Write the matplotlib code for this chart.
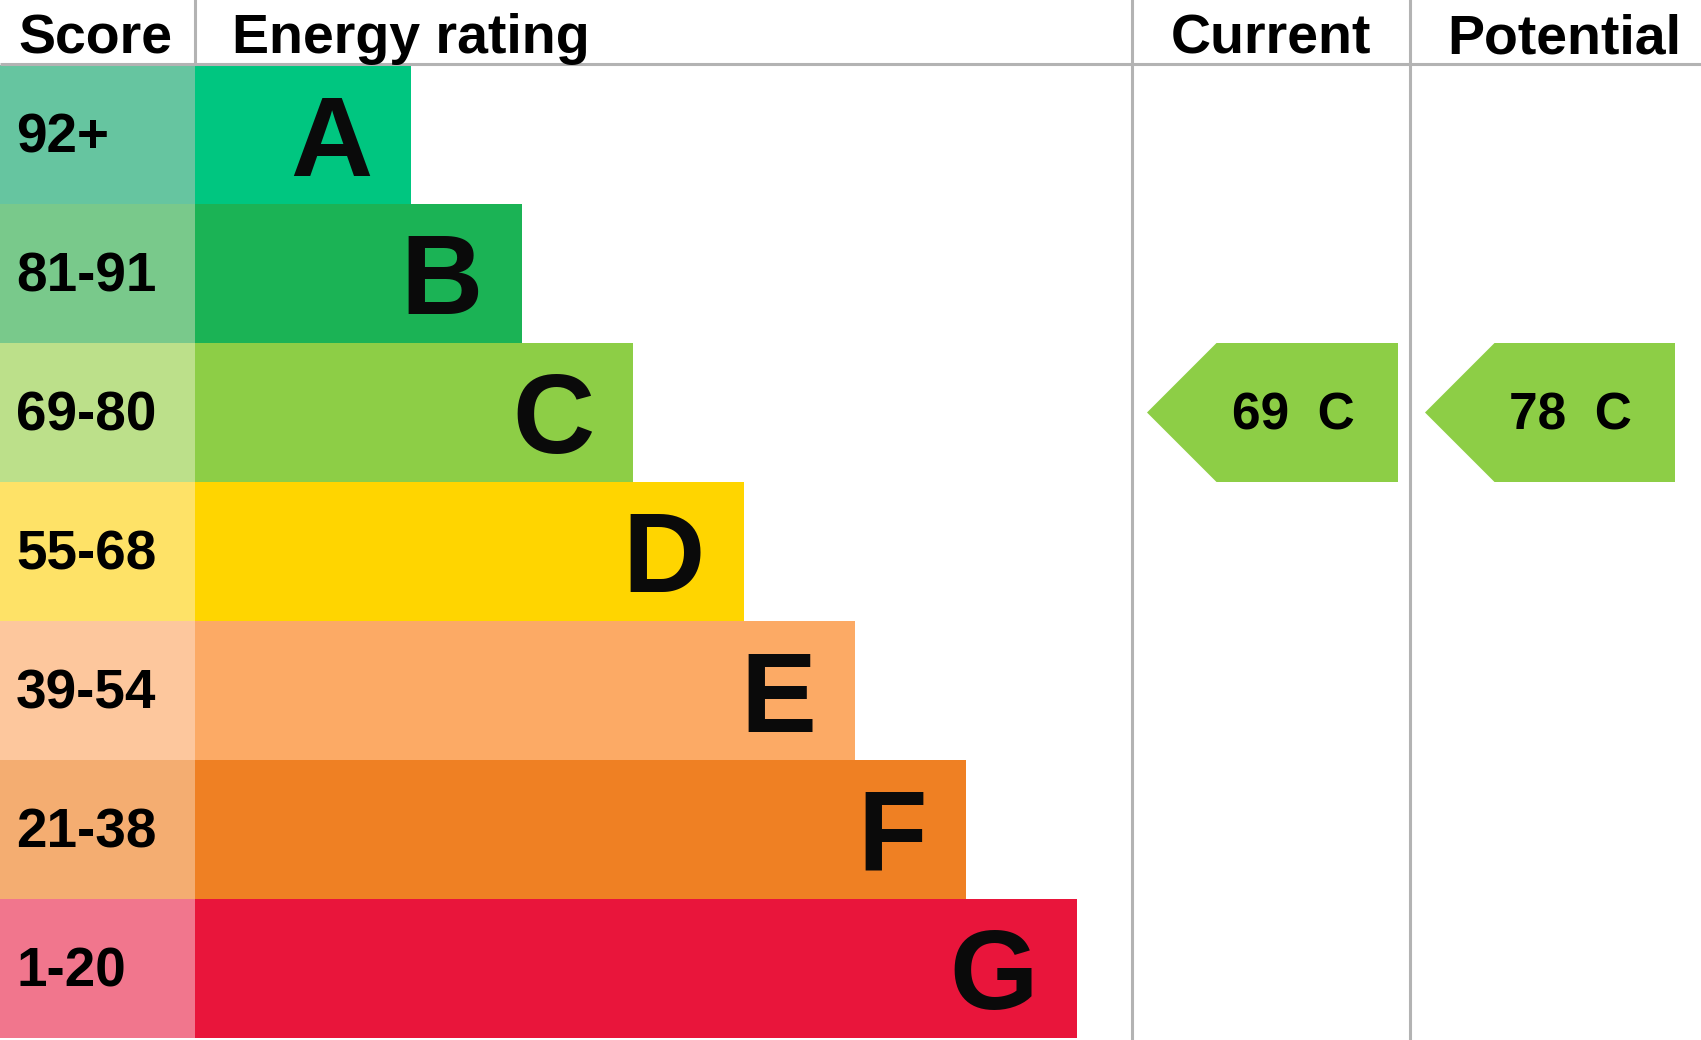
import matplotlib
matplotlib.use('Agg')
import matplotlib.pyplot as plt
from matplotlib.patches import Rectangle, Polygon

# -------- data --------
bands = ['A', 'B', 'C', 'D', 'E', 'F', 'G']
score_labels = ['92+', '81-91', '69-80', '55-68', '39-54', '21-38', '1-20']
score_lows = [92, 81, 69, 55, 39, 21, 1]
band_colors = ['#00c680', '#1bb355', '#8dce46', '#ffd500', '#fcaa65', '#ef8023', '#e9153b']
score_colors = ['#66c5a0', '#79c98b', '#bce08a', '#fee267', '#fdc79d', '#f4ad71', '#f1768d']
current = 69
potential = 78
# ----------------------

W, H = 1701, 1040
fig = plt.figure(figsize=(W / 100, H / 100), dpi=100)
ax = fig.add_axes([0, 0, 1, 1])
ax.set_xlim(0, W)
ax.set_ylim(H, 0)
ax.axis('off')

plt.rcParams['font.family'] = ['Liberation Sans', 'DejaVu Sans']

grid = '#b3b3b3'
lw = 2.2
header_h = 64
row_top = 65
row_h = 139
score_w = 195
cur_x0, pot_x0 = 1132, 1410


def band_of(score):
    for i, low in enumerate(score_lows):
        if score >= low:
            return i
    return len(bands) - 1


# header
ax.text(18, 53, 'Score', fontsize=40, fontweight='bold', ha='left', va='baseline')
ax.text(232, 53, 'Energy rating', fontsize=40, fontweight='bold', ha='left', va='baseline')
ax.text((cur_x0 + pot_x0) / 2, 53, 'Current', fontsize=40, fontweight='bold',
        ha='center', va='baseline')
ax.text(1564, 53, 'Potential', fontsize=40, fontweight='bold', ha='center', va='baseline')

ax.plot([0, W], [header_h, header_h], color=grid, lw=lw, solid_capstyle='butt')
ax.plot([score_w, score_w], [0, header_h], color=grid, lw=lw)
ax.plot([cur_x0, cur_x0], [0, H], color=grid, lw=lw)
ax.plot([pot_x0, pot_x0], [0, H], color=grid, lw=lw)

# bands
for i, (band, lab) in enumerate(zip(bands, score_labels)):
    y0 = row_top + i * row_h
    yc = y0 + row_h / 2
    x_end = 411 + i * 111
    ax.add_patch(Rectangle((0, y0), score_w, row_h, color=score_colors[i], lw=0))
    ax.add_patch(Rectangle((score_w, y0), x_end - score_w, row_h, color=band_colors[i], lw=0))
    ax.text(16, yc + 18, lab, fontsize=39.5, fontweight='bold', ha='left', va='baseline')
    ax.text(x_end - 39, yc + 41, band, fontsize=82, fontweight='bold',
            ha='right', va='baseline', color='#0a0a0a')


# rating arrows
def arrow(x0, x1, value):
    i = band_of(value)
    y0 = row_top + i * row_h
    y1 = y0 + row_h
    tip = x0 + 15
    pts = [(tip, (y0 + y1) / 2), (tip + row_h / 2, y0), (x1, y0), (x1, y1), (tip + row_h / 2, y1)]
    ax.add_patch(Polygon(pts, closed=True, color=band_colors[i], lw=0))
    ax.text((tip + row_h / 2 + x1) / 2 - 14, (y0 + y1) / 2 + 17, '%d  %s' % (value, bands[i]),
            fontsize=37, fontweight='bold', ha='center', va='baseline')


arrow(cur_x0, 1398, current)
arrow(pot_x0, 1675, potential)

plt.savefig('out.png', dpi=100)
